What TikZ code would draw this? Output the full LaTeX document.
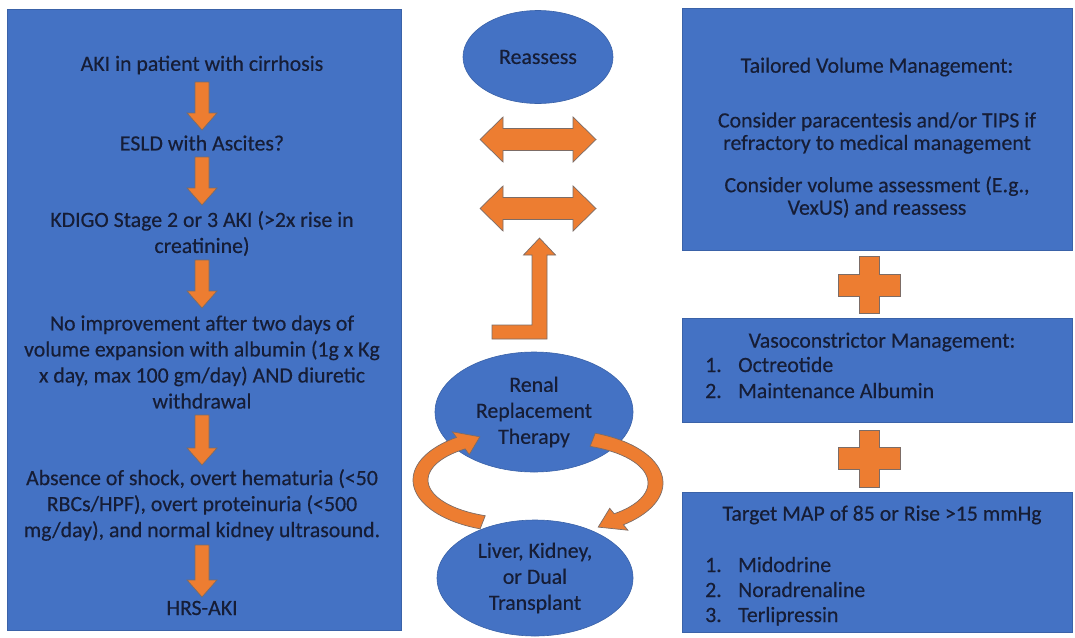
\documentclass[tikz,border=0pt]{standalone}
\usepackage{fontspec}
\setmainfont{Carlito}[FakeBold=0.35]
\usetikzlibrary{calc,shapes.geometric}
\definecolor{panelblue}{HTML}{4472C4}
\definecolor{paneledge}{HTML}{3A62A8}
\definecolor{inktext}{HTML}{161D36}
\definecolor{arroworange}{HTML}{ED7D31}
\definecolor{arrowedge}{HTML}{7C6C66}

\begin{document}
\begin{tikzpicture}[x=1pt,y=-1pt,
  panel/.style={fill=panelblue,draw=paneledge,line width=0.6pt},
  txt/.style={text=inktext,font=\fontsize{21.8}{26}\selectfont,align=center,inner sep=0pt},
  tighttxt/.style={text=inktext,font=\fontsize{21.8}{22.5}\selectfont,align=center,inner sep=0pt},
  item/.style={text=inktext,font=\fontsize{21.8}{26}\selectfont,inner sep=0pt,anchor=west,text height=14pt,text depth=4pt},
  oval/.style={ellipse,fill=panelblue,draw=paneledge,line width=0.6pt,inner sep=0pt,
    text=inktext,font=\fontsize{21.8}{26}\selectfont,align=center},
  fatarrow/.style={fill=arroworange,draw=arrowedge,line width=0.7pt,line join=miter},
  fat down/.style={to path={
    ($(\tikztostart)+(-7,0)$) -- ($(\tikztotarget)+(-7,-17)$) -- ($(\tikztotarget)+(-15,-17)$)
    -- (\tikztotarget) -- ($(\tikztotarget)+(15,-17)$) -- ($(\tikztotarget)+(7,-17)$)
    -- ($(\tikztostart)+(7,0)$) -- cycle}},
  fat both/.style={to path={
    (\tikztostart) -- ($(\tikztostart)+(23,-22.5)$) -- ($(\tikztostart)+(23,-11)$)
    -- ($(\tikztotarget)+(-23,-11)$) -- ($(\tikztotarget)+(-23,-22.5)$) -- (\tikztotarget)
    -- ($(\tikztotarget)+(-23,22.5)$) -- ($(\tikztotarget)+(-23,11)$)
    -- ($(\tikztostart)+(23,11)$) -- ($(\tikztostart)+(23,22.5)$) -- cycle}},
  bent up/.style={to path={
    ($(\tikztostart)+(0,-7)$) -- ($(\tikztotarget |- \tikztostart)+(-7.5,-7)$)
    -- ($(\tikztotarget)+(-7.5,17)$) -- ($(\tikztotarget)+(-16,17)$) -- (\tikztotarget)
    -- ($(\tikztotarget)+(16,17)$) -- ($(\tikztotarget)+(7.5,17)$)
    -- ($(\tikztotarget |- \tikztostart)+(7.5,7)$) -- ($(\tikztostart)+(0,7)$) -- cycle}}
]
\useasboundingbox (0,0) rectangle (1075,637);
\fill[white] (0,0) rectangle (1075,637);

% ---------- diagnostic pathway (left column) ----------
\node[panel,minimum width=394,minimum height=621,anchor=north west] (diag) at (7,9) {};
\node[txt] (t1) at (202,65) {AKI in patient with cirrhosis};
\node[txt] (t2) at (202,143) {ESLD with Ascites?};
\node[txt] (t3) at (202,233.5) {KDIGO Stage 2 or 3 AKI (>2x rise in\\creatinine)};
\node[txt] (t4) at (202,362) {No improvement after two days of\\volume expansion with albumin (1g x Kg\\x day, max 100 gm/day) AND diuretic\\withdrawal};
\node[txt] (t5) at (202,505) {Absence of shock, overt hematuria (<50\\RBCs/HPF), overt proteinuria (<500\\mg/day), and normal kidney ultrasound.};
\node[txt] (t6) at (202,608) {HRS-AKI};

\coordinate (a1s) at ($(t1.center)+(0,17)$);  \coordinate (a1e) at ($(t2.center)+(0,-13)$);
\coordinate (a2s) at ($(t2.center)+(0,14)$);  \coordinate (a2e) at ($(t3.center)+(0,-28.5)$);
\coordinate (a3s) at ($(t3.center)+(0,26.5)$); \coordinate (a3e) at ($(t4.center)+(0,-54)$);
\coordinate (a4s) at ($(t4.center)+(0,53)$);  \coordinate (a4e) at ($(t5.center)+(0,-40)$);
\coordinate (a5s) at ($(t5.center)+(0,40)$);  \coordinate (a5e) at ($(t6.center)+(0,-11)$);
\foreach \k in {1,...,5} {\filldraw[fatarrow] (a\k s) to[fat down] (a\k e);}

% ---------- treatment options (middle column) ----------
\node[oval,minimum width=150,minimum height=93] (reassess) at (538,57) {Reassess};
\node[oval,minimum width=198,minimum height=120] (rrt) at (534,412) {Renal\\Replacement\\Therapy};
\node[oval,minimum width=196,minimum height=116] (tx) at (535,578) {Liver, Kidney,\\or Dual\\Transplant};

\coordinate (d1l) at (480,139.5); \coordinate (d1r) at (596,139.5);
\coordinate (d2l) at (480,208.5); \coordinate (d2r) at (596,208.5);
\filldraw[fatarrow] (d1l) to[fat both] (d1r);
\filldraw[fatarrow] (d2l) to[fat both] (d2r);

\coordinate (e0) at (492,332); \coordinate (e1) at (539.5,238);
\filldraw[fatarrow] (e0) to[bent up] (e1);

% curved arrows cycling between dialysis and transplant
\begin{scope}[shift={(515,480)}]
  \filldraw[fatarrow]
    plot[domain=110:235,samples=40] ({102*cos(\x)},{52*sin(\x)})
    -- (-62.7,-48.2) -- (-35.2,-43.2) -- (-45.7,-25.5)
    -- plot[domain=235:110,samples=40] ({87*cos(\x)},{38*sin(\x)}) -- cycle;
\end{scope}
\begin{scope}[shift={(560,483)}]
  \filldraw[fatarrow]
    plot[domain=-70:52,samples=40] ({103*cos(\x)},{53*sin(\x)})
    -- (67.9,47.2) -- (38.2,44.1) -- (49.7,25.3)
    -- plot[domain=52:-70,samples=40] ({88*cos(\x)},{39*sin(\x)}) -- cycle;
\end{scope}

% ---------- management bundle (right column) ----------
\node[panel,minimum width=390,minimum height=242,anchor=north west] (vol) at (682,8) {};
\node[txt] (volh) at (877,67) {Tailored Volume Management:};
\node[tighttxt] (volp1) at (877,133) {Consider paracentesis and/or TIPS if\\refractory to medical management};
\node[tighttxt] (volp2) at (877,197) {Consider volume assessment (E.g.,\\VexUS) and reassess};

\node[panel,minimum width=390,minimum height=104,anchor=north west] (vaso) at (682,318) {};
\node[txt] (vasoh) at (882,342) {Vasoconstrictor Management:};
\node[item] (v1n) at (705,367) {1.}; \node[item] (v1) at (738,367) {Octreotide};
\node[item] (v2n) at (705,393) {2.}; \node[item] (v2) at (738,393) {Maintenance Albumin};

\node[panel,minimum width=390,minimum height=140,anchor=north west] (map) at (682,492) {};
\node[txt] (maph) at (882,515) {Target MAP of 85 or Rise >15 mmHg};
\node[item] (m1n) at (705,567) {1.}; \node[item] (m1) at (738,567) {Midodrine};
\node[item] (m2n) at (705,592) {2.}; \node[item] (m2) at (738,592) {Noradrenaline};
\node[item] (m3n) at (705,617) {3.}; \node[item] (m3) at (738,617) {Terlipressin};

% plus signs joining the three boxes
\coordinate (p1) at (869,285);
\coordinate (p2) at (869,458.5);
\foreach \p in {p1,p2} {
  \filldraw[fatarrow,shift={(\p)}]
    (-10,-28.5) -- (10,-28.5) -- (10,-11) -- (31,-11) -- (31,11) -- (10,11)
    -- (10,28.5) -- (-10,28.5) -- (-10,11) -- (-31,11) -- (-31,-11) -- (-10,-11) -- cycle;
}
\end{tikzpicture}
\end{document}
